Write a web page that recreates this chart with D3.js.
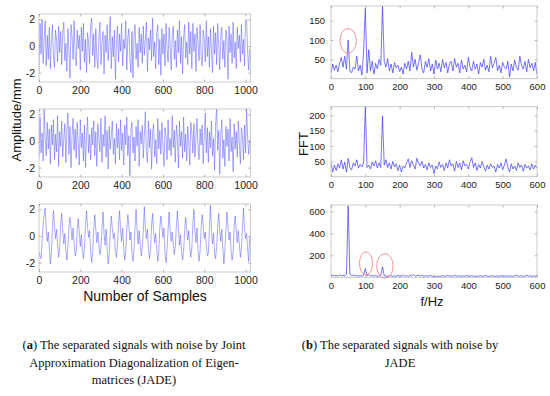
<html>

<head>
    <meta charset="utf-8" />
    <script src="https://cdn.jsdelivr.net/npm/d3@7/dist/d3.min.js"></script>
</head>

<body style="margin:0;background:#fff">
    <script>
        var width = 550;
        var height = 396;

        // time signals, one value every 5 samples (0 .. 1020)
        var sampleStep = 5;
        var sig1 = [
            -1.9, 1.7, -0.6, 2.0, -1.3, 0.5, 1.9, -1.5, 0.8, -1.0,
            1.4, -1.7, 0.3, 1.6, -0.8, -1.6, 1.2, 0.4, -1.2, 1.5,
            -0.5, 1.1, -1.4, 0.9, 1.8, -1.1, 0.2, -1.9, 1.3, -0.3,
            -2.4, 1.6, 0.7, -1.0, 1.9, -0.6, -1.5, 1.2, -0.2, 0.8,
            -1.8, 1.4, -0.4, 1.7, -1.2, 0.5, -2.0, 1.0, 0.3, -1.3,
            1.5, 2.1, -0.7, 0.9, -1.6, 1.3, -0.9, -1.7, 0.6, 1.8,
            -1.4, 0.2, 1.1, -2.1, 0.8, -0.5, 1.6, -1.1, 0.4, 2.2,
            -1.7, 0.7, -0.8, 1.2, -2.5, 0.3, 1.5, -1.2, 0.9, -0.4,
            1.7, -1.5, 0.5, -0.2, 1.9, -1.8, 0.6, 1.3, -0.9, -2.0,
            1.1, -2.4, 0.8, 1.6, -1.0, 0.2, -1.6, 1.4, -0.5, 0.9,
            -1.3, 1.5, -0.7, 0.4, 1.8, -1.9, 0.6, -0.3, 1.2, -1.1,
            2.1, -0.8, 0.3, -1.7, 1.0, 1.6, -1.4, 0.5, -2.2, 1.3,
            -0.6, 0.9, -1.5, 1.7, -0.2, -1.2, 1.4, 0.1, -1.8, 0.8,
            1.5, -1.0, 0.4, -1.6, 1.2, -0.5, 1.9, -1.3, 0.7, -2.1,
            0.6, 1.6, -0.9, 0.3, -1.4, 1.8, -0.6, 1.1, -1.7, 1.7,
            -0.4, 0.9, -1.9, 1.4, 0.2, -1.1, 1.6, -0.7, -1.5, 1.2,
            0.5, -1.2, 1.9, -0.8, 0.7, -1.6, 1.3, -0.3, -2.0, 1.5,
            -0.6, 1.0, -1.4, 1.7, 0.1, -1.8, 0.8, 1.4, -1.0, 0.4,
            -1.6, 1.2, 0.6, -2.5, 1.5, -0.5, 0.9, -1.3, 1.8, -0.9,
            0.3, -1.7, 1.4, -0.2, 0.8, -1.2, 1.6, -0.6, 0.5, -1.5,
            1.9, 2.0, -0.4, -1.8, -0.2
        ];
        var sig2 = [
            -1.2, 1.8, -0.9, 0.6, -1.5, 2.5, 0.3, -1.1, 1.4, -0.6,
            0.9, -1.7, 1.2, -0.3, 1.6, -1.4, 0.5, -0.8, 1.9, -1.9,
            0.7, -0.4, 1.5, -1.2, 0.2, 1.3, -1.6, 0.8, 2.1, -1.0,
            1.1, -2.0, 0.4, 1.7, -0.7, 0.9, -1.3, 1.4, -0.2, -1.8,
            1.6, -0.5, 0.6, -1.5, 1.2, -2.0, 0.3, 1.8, -0.9, 0.5,
            -1.4, 1.0, -0.3, 1.5, -1.1, 0.7, -1.9, 1.3, 0.2, -0.8,
            1.7, -1.6, 0.5, -0.4, 1.9, -1.2, 0.8, -2.1, 1.1, -0.6,
            0.4, 1.5, -1.0, 0.2, -1.7, 1.3, -0.5, 0.9, -1.4, 1.6,
            -0.7, 0.6, -1.8, 1.2, -0.3, 1.8, -1.1, 0.4, -2.6, 0.9,
            1.4, -0.9, 0.3, -1.5, 1.1, -0.4, 1.6, -1.9, 0.7, -0.2,
            1.2, -1.3, 0.5, 2.2, -0.8, -1.6, 1.5, -0.5, 0.9, -2.1,
            0.6, 1.3, -1.2, 0.1, -1.7, 1.7, -0.6, 0.8, -1.0, 1.4,
            -0.3, -1.9, 1.0, 0.4, -1.4, 1.6, -0.7, 0.2, -1.1, 1.9,
            -0.5, 0.8, -1.6, 1.2, 0.3, -2.0, 1.5, -0.4, 0.7, -1.3,
            1.8, -0.8, 0.5, -1.5, 1.1, -0.2, -1.8, 1.4, 0.6, -0.9,
            1.3, -1.2, 0.3, 1.7, -0.6, -1.4, 0.9, -0.3, 1.2, -1.7,
            0.4, 2.1, -0.9, 1.0, -1.6, 0.7, -0.5, 1.5, -1.1, 0.2,
            -2.2, 1.2, 2.5, -0.7, 0.8, -2.5, 0.5, 1.6, -1.3, 0.1,
            -1.9, 1.1, -0.4, 0.9, -1.5, 1.7, -0.8, 0.3, -2.3, 1.3,
            -0.6, 0.7, -1.2, 1.5, -0.2, -1.7, 1.0, 0.4, -1.4, 1.2,
            -0.9, 2.5, 0.3, -1.0, 0.1
        ];
        var sig3 = [
            -1.2, -1.5, -1.7, -0.3, 0.9, 1.6,
            2.1, 0.5, -0.4, 0.3, -0.9, -2.1, -1.3, 0.6,
            1.9, 0.8, -0.2, 0.5, -0.7, -1.6, -1.0, 0.9,
            1.7, 0.4, -0.6, 0.2, -1.1, -1.8, -0.8, 0.7,
            1.4, 0.6, -0.3, 0.6, -0.5, -1.5, -1.2, 0.4,
            1.3, 0.3, -0.8, 0.1, -1.0, -1.7, -0.9, 0.8,
            1.9, 0.7, -0.1, 0.4, -1.2, -2.0, -1.1, 0.5,
            1.6, 0.5, -0.5, 0.3, -0.6, -1.4, -1.0, 0.6,
            1.8, 0.2, -0.7, 0.5, -0.9, -2.1, -1.4, 0.3,
            1.5, 0.6, -0.2, 0.2, -1.1, -1.6, -0.7, 0.9,
            1.9, 0.4, -0.4, 0.6, -0.8, -1.8, -1.2, 0.5,
            1.6, 0.8, -0.3, 0.3, -1.3, -1.9, -1.0, 0.7,
            2.0, 0.5, -0.6, 0.4, -0.7, -1.5, -0.9, 0.4,
            2.2, 0.6, -0.2, 0.5, -1.0, -1.7, -1.1, 0.8,
            1.7, 0.3, -0.5, 0.2, -0.9, -1.9, -1.3, 0.6,
            1.5, 0.7, -0.1, 0.6, -1.2, -2.0, -1.0, 0.5,
            1.8, 0.4, -0.4, 0.3, -0.6, -1.4, -0.8, 0.7,
            1.9, 0.6, -0.7, 0.1, -1.1, -1.8, -1.2, 0.4,
            1.4, 0.5, -0.3, 0.4, -0.8, -1.6, -0.9, 0.9,
            2.0, 0.3, -0.5, 0.6, -1.0, -1.9, -1.1, 0.6,
            1.6, 0.8, -0.2, 0.3, -0.7, -1.5, -1.3, 0.5,
            2.3, 0.5, -0.6, 0.2, -1.2, -1.7, -0.8, 0.7,
            1.7, 0.4, -0.4, 0.5, -0.9, -2.1, -1.0, 0.4,
            1.8, 0.7, -0.3, 0.3, -1.1, -1.8, -1.2, 0.8,
            1.5, 0.5, -0.5, 0.4, -0.6, -1.6, -0.9, 0.6,
            2.1, 0.6, -0.2, 0.2, -1.0, -1.9, -0.1
        ];

        // spectra, one value every 5 Hz (0 .. 600)
        var freqStep = 5;
        var fft1 = [
            15, 38, 22, 35, 18, 40, 55, 30, 58, 25,
            100, 20, 15, 30, 25, 58, 20, 35, 10, 72,
            182, 15, 75, 20, 45, 12, 40, 25, 50, 35,
            190, 45, 30, 52, 20, 38, 15, 42, 28, 35,
            18, 30, 12, 40, 25, 45, 20, 68, 30, 50,
            22, 40, 62, 25, 15, 45, 30, 52, 20, 38,
            12, 48, 25, 40, 18, 50, 28, 42, 15, 38,
            45, 20, 52, 30, 40, 15, 48, 25, 35, 18,
            55, 30, 20, 45, 25, 38, 12, 42, 30, 50,
            22, 35, 18, 58, 28, 40, 55, 20, 35, 15,
            42, 30, 25, 45, 5, 38, 20, 48, 30, 22,
            58, 35, 25, 45, 18, 50, 28, 40, 20, 42,
            10
        ];
        var fft2 = [
            45, 15, 38, 20, 42, 28, 55, 25, 48, 15,
            60, 30, 22, 45, 35, 55, 28, 40, 32, 45,
            230, 30, 38, 25, 48, 35, 52, 28, 45, 30,
            198, 38, 55, 30, 45, 25, 50, 32, 42, 20,
            38, 15, 35, 28, 45, 58, 30, 52, 38, 25,
            60, 45, 35, 50, 28, 40, 22, 45, 30, 38,
            10, 35, 25, 48, 30, 40, 20, 45, 28, 55,
            35, 42, 18, 50, 30, 45, 22, 52, 35, 40,
            25, 48, 62, 30, 45, 20, 40, 28, 50, 32,
            18, 38, 25, 42, 30, 35, 15, 40, 28, 45,
            22, 38, 58, 30, 15, 42, 25, 35, 20, 45,
            30, 38, 18, 40, 28, 35, 22, 42, 25, 38,
            28
        ];
        var fft3 = [
            15, 20, 12, 18, 10, 22, 15, 18, 12, 25,
            650, 30, 15, 20, 12, 18, 10, 15, 12, 20,
            80, 15, 25, 12, 18, 10, 15, 8, 12, 18,
            95, 15, 10, 8, 12, 15, 8, 12, 10, 18,
            8, 12, 22, 10, 15, 8, 18, 12, 25, 10,
            15, 20, 12, 18, 8, 15, 10, 12, 18, 8,
            10, 5, 12, 8, 10, 15, 8, 12, 18, 10,
            15, 8, 20, 12, 10, 15, 8, 12, 10, 18,
            8, 12, 15, 10, 8, 12, 10, 15, 8, 12,
            18, 10, 8, 12, 15, 8, 10, 12, 8, 15,
            10, 12, 8, 15, 10, 12, 8, 15, 20, 10,
            12, 15, 8, 12, 20, 10, 15, 8, 12, 10,
            15
        ];

        var sampleTicks = [0, 200, 400, 600, 800, 1000];
        var ampTicks = [-2, 0, 2];
        var freqTicks = [0, 100, 200, 300, 400, 500, 600];
        var fftTicks1 = [50, 100, 150];
        var fftTicks2 = [50, 100, 150, 200];
        var fftTicks3 = [200, 400, 600];

        // red marks around the peaks: [panel, f, value]
        var marks = [[0, 50, 98], [2, 102, 127], [2, 157, 103]];

        var captionA = ['The separated signals with noise by Joint',
            'Approximation Diagonalization of Eigen-', 'matrices (JADE)'];
        var captionB = ['The separated signals with noise by', 'JADE'];

        var svg = d3.select('body')
            .append('svg')
            .attr('width', width)
            .attr('height', height)
            .style('font-family', 'Liberation Sans, Arial, sans-serif');

        var leftPanels = [
            { data: sig1, top: 14, bottom: 82 },
            { data: sig2, top: 109, bottom: 177 },
            { data: sig3, top: 204, bottom: 272 }
        ];
        var rightPanels = [
            { data: fft1, top: 6, bottom: 78.7, max: 188, ticks: fftTicks1 },
            { data: fft2, top: 106.7, bottom: 176.7, max: 228, ticks: fftTicks2 },
            { data: fft3, top: 205, bottom: 277.3, max: 657, ticks: fftTicks3 }
        ];

        function frame(g, x, y) {
            var x0 = x.range()[0], x1 = x.range()[1];
            var y0 = y.range()[0], y1 = y.range()[1];
            g.append('rect')
                .attr('x', x0).attr('y', y1)
                .attr('width', x1 - x0).attr('height', y0 - y1)
                .attr('fill', 'none')
                .attr('stroke', '#bdbdbd')
                .attr('stroke-width', 0.8);
        }

        var plain = function (d) { return String(d); };

        function drawPanel(i, p, x, y, step, xt, yt, fs, ylabDx, lineColor, lineW) {
            var g = svg.append('g');
            var clipId = 'clip' + i;
            svg.append('clipPath').attr('id', clipId)
                .append('rect')
                .attr('x', x.range()[0]).attr('y', y.range()[1])
                .attr('width', x.range()[1] - x.range()[0])
                .attr('height', y.range()[0] - y.range()[1]);

            var line = d3.line()
                .x(function (d, j) { return x(j * step); })
                .y(function (d) { return y(d); });
            g.append('path')
                .datum(p.data)
                .attr('clip-path', 'url(#' + clipId + ')')
                .attr('d', line)
                .attr('fill', 'none')
                .attr('stroke', lineColor)
                .attr('stroke-width', lineW)
                .attr('stroke-linejoin', 'round');

            frame(g, x, y);

            var xb = d3.axisBottom(x).tickValues(xt).tickSize(-2.5).tickPadding(5).tickFormat(plain);
            var xtop = d3.axisTop(x).tickValues(xt).tickSize(-2.5).tickFormat('');
            var yl = d3.axisLeft(y).tickValues(yt).tickSize(-2.5).tickPadding(ylabDx).tickFormat(plain);
            var yr = d3.axisRight(y).tickValues(yt).tickSize(-2.5).tickFormat('');

            [[xb, 'translate(0,' + y.range()[0] + ')'],
            [xtop, 'translate(0,' + y.range()[1] + ')'],
            [yl, 'translate(' + x.range()[0] + ',0)'],
            [yr, 'translate(' + x.range()[1] + ',0)']].forEach(function (a) {
                var ag = g.append('g').attr('transform', a[1]).call(a[0]);
                ag.select('.domain').remove();
                ag.selectAll('line').attr('stroke', '#999').attr('stroke-width', 0.7);
                ag.selectAll('text')
                    .attr('font-size', fs)
                    .attr('font-family', 'Liberation Sans, Arial, sans-serif')
                    .attr('fill', '#222');
            });
            return g;
        }

        leftPanels.forEach(function (p, i) {
            var x = d3.scaleLinear().domain([0, 1024]).range([39, 250.5]);
            var y = d3.scaleLinear().domain([-2.7, 2.4]).range([p.bottom, p.top]);
            drawPanel(i, p, x, y, sampleStep, sampleTicks, ampTicks, 10.5, 4, '#5555ff', 0.5);
        });

        var rightScales = [];
        rightPanels.forEach(function (p, i) {
            var x = d3.scaleLinear().domain([0, 600]).range([331, 537]);
            var y = d3.scaleLinear().domain([0, p.max]).range([p.bottom, p.top]);
            rightScales.push({ x: x, y: y });
            drawPanel(i + 3, p, x, y, freqStep, freqTicks, p.ticks, 9.5, 6, '#3a3aff', 0.7);
        });

        marks.forEach(function (m, k) {
            var s = rightScales[m[0]];
            svg.append('ellipse')
                .attr('cx', s.x(m[1]))
                .attr('cy', s.y(m[2]))
                .attr('rx', k == 1 ? 6.5 : 8.2)
                .attr('ry', k == 1 ? 11.5 : 12.3)
                .attr('fill', 'none')
                .attr('stroke', '#f07a7a')
                .attr('stroke-width', 0.8);
        });

        // axis titles
        svg.append('text')
            .attr('transform', 'translate(21,120) rotate(-90)')
            .attr('text-anchor', 'middle')
            .attr('font-size', 13)
            .attr('fill', '#111')
            .text('Amplitude/mm');
        svg.append('text')
            .attr('x', 145).attr('y', 301)
            .attr('text-anchor', 'middle')
            .attr('font-size', 14)
            .attr('fill', '#111')
            .text('Number of Samples');
        svg.append('text')
            .attr('transform', 'translate(308,144) rotate(-90)')
            .attr('text-anchor', 'middle')
            .attr('font-size', 13)
            .attr('fill', '#111')
            .text('FFT');
        svg.append('text')
            .attr('x', 432).attr('y', 306)
            .attr('text-anchor', 'middle')
            .attr('font-size', 13)
            .attr('fill', '#111')
            .text('f/Hz');

        // captions
        function caption(cx, letter, lines) {
            lines.forEach(function (l, j) {
                var t = svg.append('text')
                    .attr('x', cx).attr('y', 349 + j * 17.5)
                    .attr('text-anchor', 'middle')
                    .attr('font-family', 'Liberation Serif, Times New Roman, serif')
                    .attr('font-size', 12.5)
                    .attr('fill', '#111');
                if (j == 0) {
                    t.append('tspan').text('(');
                    t.append('tspan').attr('font-weight', 'bold').text(letter);
                    t.append('tspan').text(') ' + l);
                } else {
                    t.text(l);
                }
            });
        }
        caption(134, 'a', captionA);
        caption(400, 'b', captionB);
    </script>
</body>

</html>
